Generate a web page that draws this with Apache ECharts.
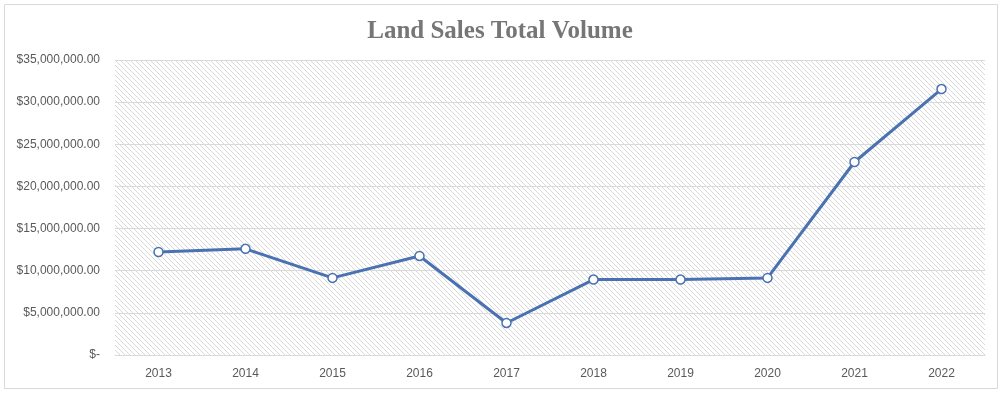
<!DOCTYPE html>
<html>
<head>
<meta charset="utf-8">
<script src="https://cdn.jsdelivr.net/npm/echarts@6/dist/echarts.min.js"></script>
<style>
html,body{margin:0;padding:0;background:#fff;}
#c{width:1000px;height:394px;}
</style>
</head>
<body>
<div id="c"></div>
<script>
const years = ['2013','2014','2015','2016','2017','2018','2019','2020','2021','2022'];
const volumes = [12220000, 12600000, 9150000, 11750000, 3800000, 8950000, 8950000, 9150000, 22900000, 31550000];
const yTicks = [0, 5000000, 10000000, 15000000, 20000000, 25000000, 30000000, 35000000];

function makePattern() {
  const s = 5;
  const cv = document.createElement('canvas');
  cv.width = s; cv.height = s;
  const ctx = cv.getContext('2d');
  ctx.fillStyle = '#ffffff';
  ctx.fillRect(0, 0, s, s);
  ctx.strokeStyle = '#d8d8d8';
  ctx.lineWidth = 1;
  ctx.beginPath();
  ctx.moveTo(-1, -1); ctx.lineTo(s + 1, s + 1);
  ctx.moveTo(-1, s - 1); ctx.lineTo(1, s + 1);
  ctx.moveTo(s - 1, -1); ctx.lineTo(s + 1, 1);
  ctx.stroke();
  return cv;
}

function fmt(v) {
  if (v === 0) return '$-';
  return '$' + v.toLocaleString('en-US', {minimumFractionDigits: 2, maximumFractionDigits: 2});
}

const chart = echarts.init(document.getElementById('c'), null, {renderer: 'canvas'});
chart.setOption({
  animation: false,
  backgroundColor: '#ffffff',
  title: {
    text: 'Land Sales Total Volume',
    left: 'center',
    top: 14,
    textStyle: {
      fontFamily: 'Liberation Serif',
      fontWeight: 'bold',
      fontSize: 25,
      color: '#767676'
    }
  },
  graphic: [{
    type: 'rect',
    shape: {x: 4.5, y: 4.5, width: 993, height: 384},
    style: {fill: 'none', stroke: '#d9d9d9', lineWidth: 1},
    silent: true,
    z: -1
  }],
  grid: {
    left: 115, right: 15, top: 60, bottom: 39,
    show: true,
    borderWidth: 0,
    backgroundColor: {image: makePattern(), repeat: 'repeat'}
  },
  xAxis: {
    type: 'category',
    data: years,
    boundaryGap: true,
    axisLine: {lineStyle: {color: '#d9d9d9', width: 1}},
    axisTick: {show: false},
    axisLabel: {color: '#595959', fontSize: 12, fontFamily: 'Liberation Sans', margin: 13}
  },
  yAxis: {
    type: 'value',
    min: yTicks[0],
    max: yTicks[yTicks.length - 1],
    interval: yTicks[1] - yTicks[0],
    axisLine: {show: false},
    axisTick: {show: false},
    splitLine: {lineStyle: {color: '#d9d9d9', width: 1}},
    axisLabel: {color: '#595959', fontSize: 12, fontFamily: 'Liberation Sans', margin: 15, formatter: fmt}
  },
  series: [{
    type: 'line',
    data: volumes,
    symbol: 'circle',
    symbolSize: 9,
    itemStyle: {color: '#ffffff', borderColor: '#4a72b2', borderWidth: 1.5},
    lineStyle: {color: '#4a72b2', width: 3},
    z: 3
  }]
});
</script>
</body>
</html>
